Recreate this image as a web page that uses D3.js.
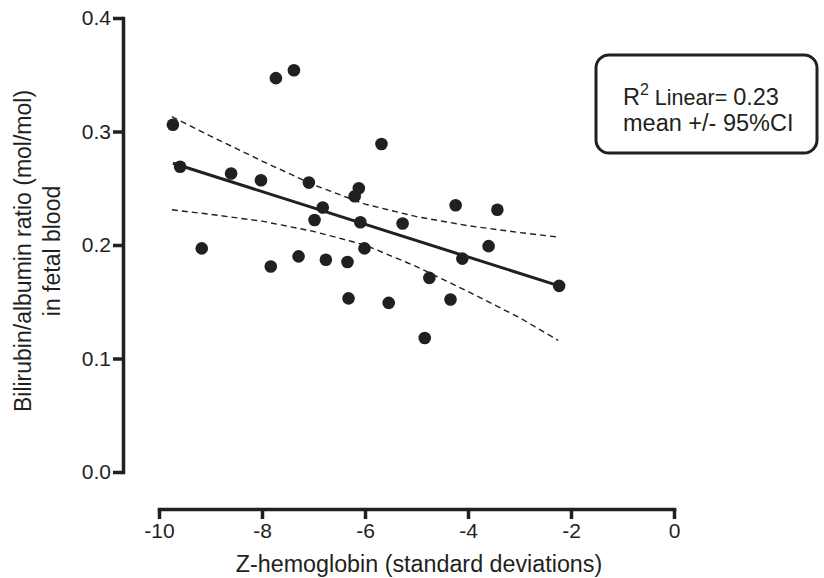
<!DOCTYPE html>
<html><head><meta charset="utf-8">
<script src="https://cdn.jsdelivr.net/npm/d3@7"></script>
<style>body{margin:0;background:#fff}svg{display:block}text{font-family:"Liberation Sans",Arial,Helvetica,sans-serif;fill:#231f20}</style>
</head><body><svg id="c" width="824" height="578"></svg>
<script>
// data
const zHb = [-9.73,-9.59,-9.17,-8.60,-8.02,-7.73,-7.38,-7.83,-7.29,-7.09,-6.98,-6.82,-6.76,-6.34,-6.32,-6.20,-6.12,-6.09,-6.01,-5.68,-5.54,-5.27,-4.84,-4.75,-4.34,-4.24,-4.11,-3.60,-3.43,-2.23];
const bar = [0.306,0.269,0.197,0.263,0.257,0.347,0.354,0.181,0.190,0.255,0.222,0.233,0.187,0.185,0.153,0.243,0.250,0.220,0.197,0.289,0.149,0.219,0.118,0.171,0.152,0.235,0.188,0.199,0.231,0.164];
const fitX = [-9.73,-2.23];
const fitY = [0.272,0.164];
const ciX = [-9.75,-9,-8,-7,-6,-5,-4,-3,-2.25];
const ciUpper = [0.313,0.296,0.274,0.253,0.236,0.225,0.217,0.211,0.207];
const ciLower = [0.231,0.227,0.221,0.212,0.200,0.181,0.159,0.136,0.116];
const xTicks = [-10,-8,-6,-4,-2,0];
const yTicks = [0,0.1,0.2,0.3,0.4];
const xTitle = "Z-hemoglobin (standard deviations)";
const yTitle = ["Bilirubin/albumin ratio (mol/mol)","in fetal blood"];
const legendR2 = "0.23";

const svg = d3.select("#c");
const x = d3.scaleLinear().domain([-10,0]).range([159,674]);
const y = d3.scaleLinear().domain([0,0.4]).range([472,18]);
const ink = "#231f20";

// y axis
const yAx = svg.append("g").attr("transform","translate(123,0)")
  .call(d3.axisLeft(y).tickValues(yTicks).tickFormat(d3.format(".1f")).tickSize(10).tickSizeOuter(0).tickPadding(2));
// x axis
const xAx = svg.append("g").attr("transform","translate(0,509)")
  .call(d3.axisBottom(x).tickValues(xTicks).tickSize(10).tickSizeOuter(0).tickPadding(4));
[yAx,xAx].forEach(g=>{
  g.select(".domain").attr("stroke",ink).attr("stroke-width",3.5).attr("stroke-linecap","square");
  g.selectAll(".tick line").attr("stroke",ink).attr("stroke-width",3.5);
  g.selectAll(".tick text").attr("font-size",21).attr("fill",ink).style("font-family","'Liberation Sans',Arial,sans-serif");
});
xAx.selectAll(".tick text").text(d=>String(d));

// titles
svg.append("text").attr("x",419).attr("y",572).attr("text-anchor","middle").attr("font-size",23.3).text(xTitle);
const yt = svg.append("text").attr("transform","translate(0,251) rotate(-90)").attr("text-anchor","middle").attr("font-size",23);
yt.append("tspan").attr("x",0).attr("y",31).text(yTitle[0]);
yt.append("tspan").attr("x",0).attr("y",60).text(yTitle[1]);

// CI dashed
const ln = d3.line().x(d=>x(d[0])).y(d=>y(d[1]));
[ciUpper,ciLower].forEach(arr=>{
  svg.append("path").attr("d",ln(ciX.map((v,i)=>[v,arr[i]]))).attr("fill","none")
    .attr("stroke",ink).attr("stroke-width",1.4).attr("stroke-dasharray","6,4");
});
// fit line
svg.append("path").attr("d",ln(fitX.map((v,i)=>[v,fitY[i]]))).attr("fill","none").attr("stroke",ink).attr("stroke-width",3);
// points
svg.append("g").selectAll("circle").data(zHb).join("circle")
  .attr("cx",d=>x(d)).attr("cy",(d,i)=>y(bar[i])).attr("r",6.3).attr("fill",ink);

// legend box
svg.append("rect").attr("x",596).attr("y",55).attr("width",221).attr("height",98).attr("rx",13)
  .attr("fill","#fff").attr("stroke",ink).attr("stroke-width",3);
const t1 = svg.append("text").attr("x",623).attr("y",105).attr("font-size",23.5);
t1.append("tspan").text("R");
t1.append("tspan").attr("font-size",16).attr("dy",-10).text("2");
t1.append("tspan").attr("font-size",21.5).attr("dy",10).text(" Linear= ");
t1.append("tspan").attr("font-size",23.5).text(legendR2);
svg.append("text").attr("x",623).attr("y",131).attr("font-size",23.5).text("mean +/- 95%CI");
</script></body></html>
